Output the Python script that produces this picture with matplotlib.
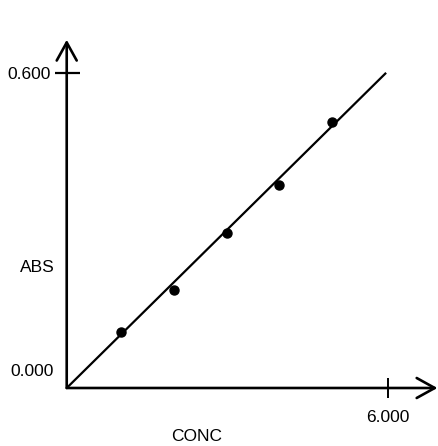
import matplotlib
matplotlib.use("Agg")
import matplotlib.pyplot as plt

plt.rcParams["font.family"] = ["Liberation Sans", "DejaVu Sans"]

# standards: concentration vs absorbance
conc = [1.02, 2.0, 2.99, 3.96, 4.95]
absb = [0.107, 0.186, 0.296, 0.387, 0.507]

# calibration line (through origin)
fit_x = [0.0, 5.97]
fit_y = [0.0, 0.601]

x_ticks = [6.0]
x_tick_labels = ["6.000"]
y_ticks = [0.6]
y_tick_labels = ["0.600"]

fig = plt.figure(figsize=(4.38, 4.46), dpi=100)
ax = fig.add_axes([0, 0, 1, 1])
ax.set_xlim(-1.247, 6.94)
ax.set_ylim(-0.1106, 0.7398)

for s in ["top", "right", "left", "bottom"]:
    ax.spines[s].set_visible(False)

# axes with open arrowheads
arrow = dict(arrowstyle="->,head_length=1.3,head_width=0.72", lw=1.9,
             color="black", shrinkA=0, shrinkB=0, mutation_scale=10)
ax.annotate("", xy=(0, 0.664), xytext=(0, 0), arrowprops=arrow)
ax.annotate("", xy=(6.93, 0), xytext=(0, 0), arrowprops=arrow)

ax.plot(fit_x, fit_y, color="black", lw=1.6, solid_capstyle="butt")
ax.plot(conc, absb, "o", color="black", markersize=6.5, zorder=3)

ax.set_xticks(x_ticks)
ax.set_xticklabels(x_tick_labels)
ax.set_yticks(y_ticks)
ax.set_yticklabels(y_tick_labels)
ax.tick_params(axis="y", direction="inout", length=18, width=1.6, pad=2.5,
               labelsize=12.5)
ax.tick_params(axis="x", direction="inout", length=13.7, width=1.4, pad=9,
               labelsize=12.5)
# move ticks onto the drawn axes
ax.spines["left"].set_position(("data", 0))
ax.spines["bottom"].set_position(("data", 0))

ax.text(-0.237, 0.0324, "0.000", ha="right", va="center", fontsize=12.5)
ax.text(-0.555, 0.229, "ABS", ha="center", va="center", fontsize=12.5)
ax.text(2.435, -0.0934, "CONC", ha="center", va="center", fontsize=12.5)

fig.savefig("out.png", dpi=100)
